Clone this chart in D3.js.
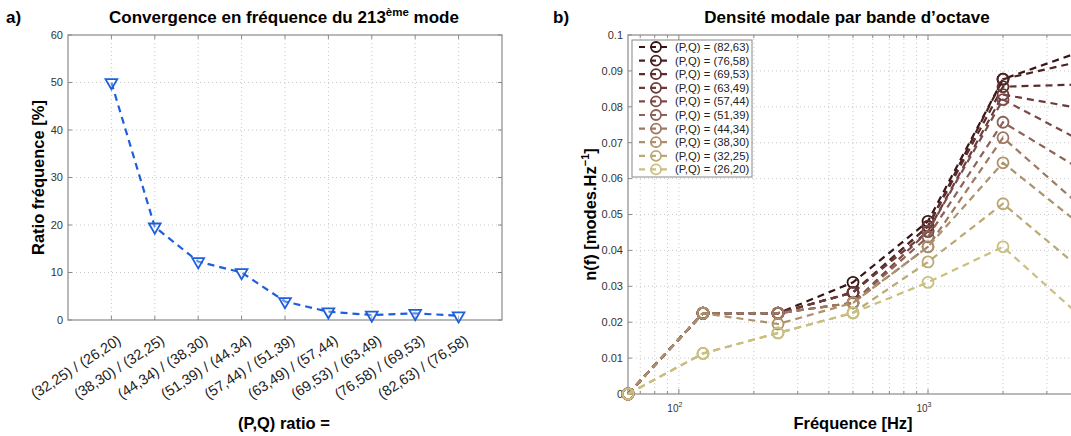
<!DOCTYPE html>
<html><head><meta charset="utf-8">
<script src="https://cdn.jsdelivr.net/npm/d3@7"></script>
<style>
body{margin:0;background:#fff;}
text{font-family:"Liberation Sans",Arial,Helvetica,sans-serif;}
</style></head>
<body><svg id="c" width="1071" height="436"></svg>
<script>
// ---------- DATA ----------
const leftCategories = ["(32,25) / (26,20)","(38,30) / (32,25)","(44,34) / (38,30)","(51,39) / (44,34)","(57,44) / (51,39)","(63,49) / (57,44)","(69,53) / (63,49)","(76,58) / (69,53)","(82,63) / (76,58)"];
const leftValues = [50.0, 19.6, 12.3, 10.0, 3.9, 1.75, 1.05, 1.4, 0.9];
const leftYTicks = [0,10,20,30,40,50,60];

const freqs = [62.5,125,250,500,1000,2000,4000];
const seriesNames = ["(P,Q) = (82,63)","(P,Q) = (76,58)","(P,Q) = (69,53)","(P,Q) = (63,49)","(P,Q) = (57,44)","(P,Q) = (51,39)","(P,Q) = (44,34)","(P,Q) = (38,30)","(P,Q) = (32,25)","(P,Q) = (26,20)"];
const dens_82_63 = [0, 0.0225, 0.0225, 0.0311, 0.0481, 0.0877, 0.0951];
const dens_76_58 = [0, 0.0225, 0.0225, 0.0283, 0.0467, 0.0877, 0.0925];
const dens_69_53 = [0, 0.0225, 0.0225, 0.0283, 0.0467, 0.0856, 0.0862];
const dens_63_49 = [0, 0.0225, 0.0225, 0.0283, 0.0453, 0.0834, 0.0797];
const dens_57_44 = [0, 0.0225, 0.0225, 0.0254, 0.0453, 0.0820, 0.0710];
const dens_51_39 = [0, 0.0225, 0.0225, 0.0254, 0.0438, 0.0757, 0.0630];
const dens_44_34 = [0, 0.0225, 0.0225, 0.0254, 0.0410, 0.0714, 0.0530];
const dens_38_30 = [0, 0.0225, 0.0195, 0.0254, 0.0410, 0.0644, 0.0477];
const dens_32_25 = [0, 0.0113, 0.0170, 0.0226, 0.0368, 0.0530, 0.0355];
const dens_26_20 = [0, 0.0113, 0.0170, 0.0226, 0.0311, 0.0410, 0.0223];
const rightYTicks = [0,0.01,0.02,0.03,0.04,0.05,0.06,0.07,0.08,0.09,0.1];
const rightMajorX = [100,1000];
const rightMinorX = [70,80,90,200,300,400,500,600,700,800,900,2000,3000,4000];

const seriesData = [dens_82_63,dens_76_58,dens_69_53,dens_63_49,dens_57_44,dens_51_39,dens_44_34,dens_38_30,dens_32_25,dens_26_20];
const palette = ["#3a1414","#4b2121","#5b2d2d","#6b3a3a","#7c4b48","#8d6155","#9e7961","#ad916b","#bba874","#c9bf7e"];

// ---------- DRAW ----------
const svg = d3.select("#c");
const gridCol = "#c8c8c8", axCol = "#8a8a8a", tickTxt = "#333";

// ===== Left chart =====
const L = {x0:68, x1:502, y0:35, y1:320};
const xL = d3.scaleLinear().domain([0,10]).range([L.x0,L.x1]);
const yL = d3.scaleLinear().domain([0,60]).range([L.y1,L.y0]);
const gl = svg.append("g");
gl.selectAll(".vg").data(leftCategories).join("line")
  .attr("x1",(d,i)=>xL(i+1)).attr("x2",(d,i)=>xL(i+1)).attr("y1",L.y0).attr("y2",L.y1)
  .attr("stroke",gridCol).attr("stroke-dasharray","1,3");
gl.selectAll(".hg").data(leftYTicks.slice(1,-1)).join("line")
  .attr("x1",L.x0).attr("x2",L.x1).attr("y1",d=>yL(d)).attr("y2",d=>yL(d))
  .attr("stroke",gridCol).attr("stroke-dasharray","1,3");
gl.selectAll(".tb").data(leftCategories).join("line")
  .attr("x1",(d,i)=>xL(i+1)).attr("x2",(d,i)=>xL(i+1)).attr("y1",L.y1).attr("y2",L.y1-4).attr("stroke",axCol);
gl.selectAll(".tt").data(leftCategories).join("line")
  .attr("x1",(d,i)=>xL(i+1)).attr("x2",(d,i)=>xL(i+1)).attr("y1",L.y0).attr("y2",L.y0+4).attr("stroke",axCol);
gl.selectAll(".tl").data(leftYTicks).join("line")
  .attr("x1",L.x0).attr("x2",L.x0+4).attr("y1",d=>yL(d)).attr("y2",d=>yL(d)).attr("stroke",axCol);
gl.selectAll(".tr").data(leftYTicks).join("line")
  .attr("x1",L.x1).attr("x2",L.x1-4).attr("y1",d=>yL(d)).attr("y2",d=>yL(d)).attr("stroke",axCol);
gl.append("rect").attr("x",L.x0).attr("y",L.y0).attr("width",L.x1-L.x0).attr("height",L.y1-L.y0)
  .attr("fill","none").attr("stroke",axCol).attr("stroke-width",1.2);
gl.selectAll(".yl").data(leftYTicks).join("text")
  .attr("x",L.x0-5).attr("y",d=>yL(d)).attr("dy","0.35em").attr("text-anchor","end")
  .attr("font-size",11).attr("fill",tickTxt).text(d=>d);
gl.selectAll(".xl").data(leftCategories).join("text")
  .attr("transform",(d,i)=>`translate(${xL(i+1)+5},${334}) rotate(-33)`)
  .attr("dy","0.72em").attr("text-anchor","end").attr("font-size",14.5).attr("fill","#222").text(d=>d);
const lineL = d3.line().x((d,i)=>xL(i+1)).y(d=>yL(d));
gl.append("path").attr("d",lineL(leftValues)).attr("fill","none").attr("stroke","#1f5fdc")
  .attr("stroke-width",2.2).attr("stroke-dasharray","7,5");
const tri = d3.symbol().type(d3.symbolTriangle).size(60);
gl.selectAll(".mk").data(leftValues).join("path")
  .attr("d",tri).attr("transform",(d,i)=>`translate(${xL(i+1)},${yL(d)}) rotate(180)`)
  .attr("fill","#fff").attr("fill-opacity",0.3).attr("stroke","#1f5fdc").attr("stroke-width",1.8);
gl.append("text").attr("x",6).attr("y",23).attr("font-size",17).attr("font-weight","bold").text("a)");
const t1 = gl.append("text").attr("x",284).attr("y",23).attr("text-anchor","middle").attr("font-size",17).attr("font-weight","bold");
t1.append("tspan").text("Convergence en fréquence du 213");
t1.append("tspan").attr("font-size",11.5).attr("dy",-7).text("ème");
t1.append("tspan").attr("dy",7).text(" mode");
gl.append("text").attr("transform",`translate(44,${(L.y0+L.y1)/2}) rotate(-90)`).attr("text-anchor","middle")
  .attr("font-size",16.5).attr("font-weight","bold").text("Ratio fréquence [%]");
gl.append("text").attr("x",284).attr("y",429).attr("text-anchor","middle").attr("font-size",16.5).attr("font-weight","bold").text("(P,Q) ratio =");

// ===== Right chart =====
const R = {x0:628, x1:1078, y0:35, y1:394};
const xR = d3.scaleLog().domain([62.5,4000]).range([R.x0,R.x1]);
const yR = d3.scaleLinear().domain([0,0.1]).range([R.y1,R.y0]);
const gr = svg.append("g");
const allX = rightMinorX.concat(rightMajorX);
gr.selectAll(".vg").data(allX).join("line")
  .attr("x1",d=>xR(d)).attr("x2",d=>xR(d)).attr("y1",R.y0).attr("y2",R.y1)
  .attr("stroke",gridCol).attr("stroke-dasharray","1,3");
gr.selectAll(".hg").data(rightYTicks.slice(1,-1)).join("line")
  .attr("x1",R.x0).attr("x2",R.x1).attr("y1",d=>yR(d)).attr("y2",d=>yR(d))
  .attr("stroke",gridCol).attr("stroke-dasharray","1,3");
gr.selectAll(".tb").data(allX).join("line")
  .attr("x1",d=>xR(d)).attr("x2",d=>xR(d)).attr("y1",R.y1).attr("y2",d=>R.y1-(rightMajorX.includes(d)?5:3)).attr("stroke",axCol);
gr.selectAll(".tt").data(allX).join("line")
  .attr("x1",d=>xR(d)).attr("x2",d=>xR(d)).attr("y1",R.y0).attr("y2",d=>R.y0+(rightMajorX.includes(d)?5:3)).attr("stroke",axCol);
gr.selectAll(".tl").data(rightYTicks).join("line")
  .attr("x1",R.x0).attr("x2",R.x0+4).attr("y1",d=>yR(d)).attr("y2",d=>yR(d)).attr("stroke",axCol);
gr.append("rect").attr("x",R.x0).attr("y",R.y0).attr("width",R.x1-R.x0).attr("height",R.y1-R.y0)
  .attr("fill","none").attr("stroke",axCol).attr("stroke-width",1.2);
gr.selectAll(".yl").data(rightYTicks).join("text")
  .attr("x",R.x0-5).attr("y",d=>yR(d)).attr("dy","0.35em").attr("text-anchor","end")
  .attr("font-size",11).attr("fill",tickTxt).text(d=>d3.format("~g")(d));
const xlab = gr.selectAll(".xl").data(rightMajorX).join("text")
  .attr("x",d=>xR(d)-4).attr("y",R.y1+18).attr("text-anchor","middle").attr("font-size",10).attr("fill",tickTxt);
xlab.append("tspan").text("10");
xlab.append("tspan").attr("font-size",7).attr("dy",-5).text(d=>Math.round(Math.log10(d)));

const lineR = d3.line().x((d,i)=>xR(freqs[i])).y(d=>yR(d));
seriesData.forEach((s,k)=>{
  const g = gr.append("g");
  g.append("path").attr("d",lineR(s)).attr("fill","none").attr("stroke",palette[k])
    .attr("stroke-width",2.2).attr("stroke-dasharray","7,5");
  g.selectAll("circle").data(s).join("circle")
    .attr("cx",(d,i)=>xR(freqs[i])).attr("cy",d=>yR(d)).attr("r",5.5)
    .attr("fill","none").attr("stroke",palette[k]).attr("stroke-width",1.8);
});

const lg = gr.append("g");
lg.append("rect").attr("x",632).attr("y",40).attr("width",120).attr("height",137)
  .attr("fill","#fff").attr("stroke","#888").attr("stroke-width",1);
seriesNames.forEach((n,k)=>{
  const y = 47 + k*13.6;
  lg.append("line").attr("x1",639).attr("x2",672).attr("y1",y).attr("y2",y)
    .attr("stroke",palette[k]).attr("stroke-width",2.2).attr("stroke-dasharray","6,5");
  lg.append("circle").attr("cx",656).attr("cy",y).attr("r",5).attr("fill","none")
    .attr("stroke",palette[k]).attr("stroke-width",1.8);
  lg.append("text").attr("x",675).attr("y",y).attr("dy","0.35em").attr("font-size",11.3).attr("fill","#222").text(n);
});

gr.append("text").attr("x",553).attr("y",23).attr("font-size",17).attr("font-weight","bold").text("b)");
gr.append("text").attr("x",847).attr("y",23).attr("text-anchor","middle").attr("font-size",17).attr("font-weight","bold").text("Densité modale par bande d’octave");
const yt = gr.append("text").attr("transform",`translate(596,${(R.y0+R.y1)/2}) rotate(-90)`).attr("text-anchor","middle")
  .attr("font-size",16.5).attr("font-weight","bold");
yt.append("tspan").text("n(f) [modes.Hz");
yt.append("tspan").attr("font-size",11).attr("dy",-7).text("−1");
yt.append("tspan").attr("dy",7).text("]");
gr.append("text").attr("x",853).attr("y",429).attr("text-anchor","middle").attr("font-size",16.5).attr("font-weight","bold").text("Fréquence [Hz]");
</script></body></html>
